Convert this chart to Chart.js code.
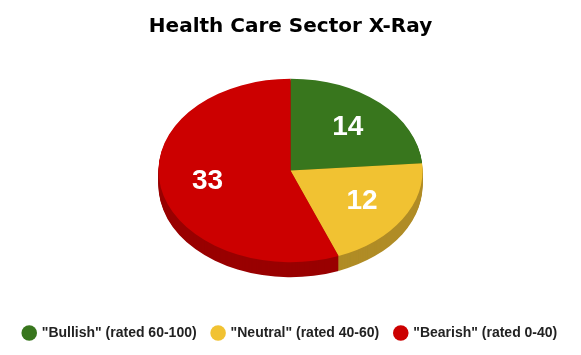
<!DOCTYPE html>
<html>
<head>
<meta charset="utf-8">
<style>
  html, body { margin: 0; padding: 0; background: #ffffff; }
  #wrap { width: 581px; height: 355px; }
</style>
<script src="https://cdn.jsdelivr.net/npm/chart.js@4.4.0/dist/chart.umd.min.js"></script>
</head>
<body>
<div id="wrap"><canvas id="chart" width="581" height="355"></canvas></div>
<script>
// chart data
const categories = ['"Bullish" (rated 60-100)', '"Neutral" (rated 40-60)', '"Bearish" (rated 0-40)'];
const counts = [14, 12, 33];
const topColors = ['#38761d', '#f1c232', '#cc0000'];
const sideColors = ['#27530f', '#b08c26', '#990000'];

const DEPTH = 15;      // height of the pie wall
const SQUASH = 0.695;  // vertical tilt of the pie

// centre of the top face: middle of the chart area, lifted by half the wall
function topCenterY(chart) {
    const area = chart.chartArea;
    return (area.top + area.bottom) / 2 - DEPTH / 2;
}

// Maps the circle drawn by Chart.js onto a tilted ellipse
function squash(ctx, arc, chart) {
    ctx.translate(arc.x, topCenterY(chart));
    ctx.scale(1, SQUASH);
    ctx.translate(-arc.x, -arc.y);
}

const pie3d = {
    id: 'pie3d',
    beforeDatasetsDraw(chart) {
        const ctx = chart.ctx;
        const arcs = chart.getDatasetMeta(0).data;
        // side wall, stacked from the bottom up
        for (let d = DEPTH; d >= 1; d--) {
            ctx.save();
            ctx.translate(0, d);
            squash(ctx, arcs[0], chart);
            arcs.forEach((a, i) => {
                ctx.beginPath();
                ctx.moveTo(a.x, a.y);
                ctx.arc(a.x, a.y, a.outerRadius, a.startAngle, a.endAngle);
                ctx.closePath();
                ctx.fillStyle = sideColors[i];
                ctx.fill();
            });
            ctx.restore();
        }
        // top face is drawn by Chart.js inside this transform
        ctx.save();
        squash(ctx, arcs[0], chart);
    },
    afterDatasetsDraw(chart) {
        const ctx = chart.ctx;
        ctx.restore();
        const arcs = chart.getDatasetMeta(0).data;
        const cy = topCenterY(chart);
        ctx.save();
        ctx.fillStyle = '#ffffff';
        ctx.font = 'bold 28px "Liberation Sans", Arial, sans-serif';
        ctx.textAlign = 'center';
        ctx.textBaseline = 'middle';
        arcs.forEach((a, i) => {
            const mid = (a.startAngle + a.endAngle) / 2;
            const r = a.outerRadius * 0.64;
            ctx.fillText(String(counts[i]), a.x + Math.cos(mid) * r, cy + Math.sin(mid) * r * SQUASH);
        });
        ctx.restore();
    }
};

new Chart(document.getElementById('chart'), {
    type: 'pie',
    data: {
        labels: categories,
        datasets: [{
            data: counts,
            backgroundColor: topColors,
            borderWidth: 0,
            radius: 132
        }]
    },
    options: {
        responsive: false,
        animation: false,
        events: [],
        layout: { padding: { top: 0, bottom: 5 } },
        plugins: {
            title: {
                display: true,
                text: 'Health Care Sector X-Ray',
                color: '#000000',
                font: { family: '"DejaVu Sans", sans-serif', size: 20, weight: 'bold' },
                padding: { top: 15, bottom: 7 }
            },
            legend: {
                position: 'bottom',
                labels: {
                    usePointStyle: true,
                    pointStyle: 'circle',
                    boxWidth: 11,
                    boxHeight: 11,
                    padding: 16,
                    color: '#222222',
                    font: { family: '"Liberation Sans", Arial, sans-serif', size: 14, weight: 'bold' }
                }
            },
            tooltip: { enabled: false }
        }
    },
    plugins: [pie3d]
});
</script>
</body>
</html>
